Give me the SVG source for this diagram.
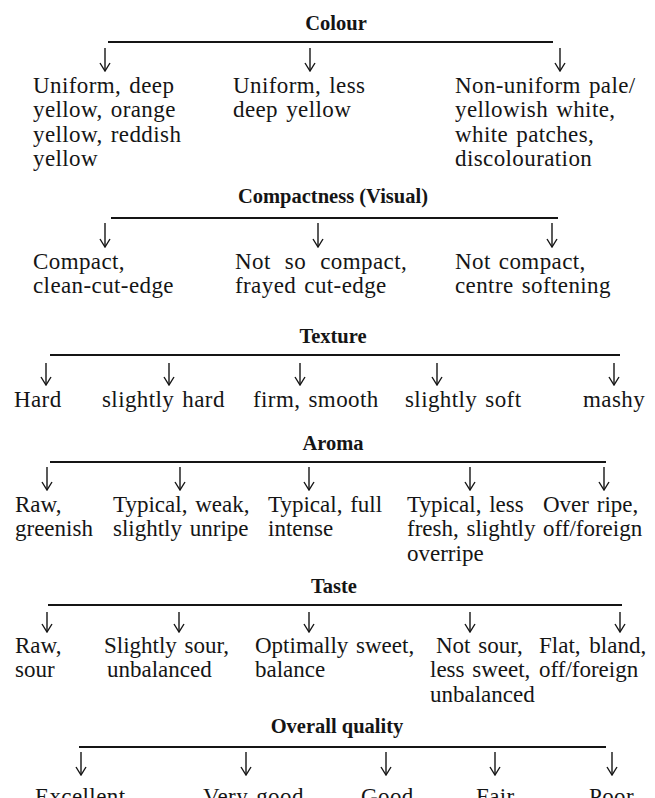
<svg xmlns="http://www.w3.org/2000/svg" width="655" height="798" viewBox="0 0 655 798">
<style>
.t{font-family:"Liberation Serif","Times New Roman",serif;font-size:20.5px;font-weight:bold;fill:#151515;text-anchor:middle}
.b{font-family:"Liberation Serif","Times New Roman",serif;font-size:23px;fill:#151515;letter-spacing:0.4px;word-spacing:2px}
.c{font-family:"Liberation Serif","Times New Roman",serif;font-size:23px;fill:#151515;letter-spacing:0px;word-spacing:2px}
.ln{stroke:#151515;stroke-width:2;fill:none}
.ar{stroke:#151515;stroke-width:1.4;fill:none;marker-end:url(#h)}
</style>
<defs>
<marker id="h" viewBox="-1 -6 10 12" refX="8" refY="0" markerWidth="10" markerHeight="12" markerUnits="userSpaceOnUse" orient="auto">
<path d="M0,-5 L8,0 L0,5" fill="none" stroke="#151515" stroke-width="1.4"/>
</marker>
</defs>
<rect width="655" height="798" fill="#ffffff"/>

<g id="connectors">
<line class="ln" x1="108" y1="42" x2="553" y2="42"/>
<path class="ar" d="M105,48V71"/><path class="ar" d="M310,48V71"/><path class="ar" d="M560,48V71"/>
<line class="ln" x1="111" y1="218" x2="558" y2="218"/>
<path class="ar" d="M105,223V247"/><path class="ar" d="M318,223V247"/><path class="ar" d="M552,223V247"/>
<line class="ln" x1="50" y1="355" x2="620" y2="355"/>
<path class="ar" d="M46,363V385"/><path class="ar" d="M169,363V385"/><path class="ar" d="M300,363V385"/><path class="ar" d="M437,363V385"/><path class="ar" d="M614,363V385"/>
<line class="ln" x1="50" y1="462" x2="606" y2="462"/>
<path class="ar" d="M47,467V490"/><path class="ar" d="M180,467V490"/><path class="ar" d="M309,467V490"/><path class="ar" d="M470,467V490"/><path class="ar" d="M604,467V490"/>
<line class="ln" x1="48" y1="605" x2="622" y2="605"/>
<path class="ar" d="M47,612V632"/><path class="ar" d="M179,612V632"/><path class="ar" d="M309,612V632"/><path class="ar" d="M470,612V632"/><path class="ar" d="M620,612V632"/>
<line class="ln" x1="79" y1="747" x2="606" y2="747"/>
<path class="ar" d="M81,752V775"/><path class="ar" d="M246,752V775"/><path class="ar" d="M386,752V775"/><path class="ar" d="M495,752V775"/><path class="ar" d="M612,752V775"/>
</g>

<g id="colour"><text class="t" x="336" y="30">Colour</text></g>
<g id="colour-1"><text class="b" x="33" y="93">Uniform, deep<tspan x="33" dy="24.3">yellow, orange</tspan><tspan x="33" dy="24.3">yellow, reddish</tspan><tspan x="33" dy="24.3">yellow</tspan></text></g>
<g id="colour-2"><text class="b" x="233" y="93">Uniform, less<tspan x="233" dy="24.3">deep yellow</tspan></text></g>
<g id="colour-3"><text class="b" x="455" y="93">Non-uniform pale/<tspan x="455" dy="24.3">yellowish white,</tspan><tspan x="455" dy="24.3">white patches,</tspan><tspan x="455" dy="24.3">discolouration</tspan></text></g>

<g id="compactness"><text class="t" x="333" y="203">Compactness (Visual)</text></g>
<g id="compact-1"><text class="b" x="33" y="269">Compact,<tspan x="33" dy="24.3">clean-cut-edge</tspan></text></g>
<g id="compact-2"><text class="b" x="235" y="269" style="word-spacing:8px">Not so compact,<tspan x="235" dy="24.3" style="word-spacing:2px">frayed cut-edge</tspan></text></g>
<g id="compact-3"><text class="b" x="455" y="269">Not compact,<tspan x="455" dy="24.3">centre softening</tspan></text></g>

<g id="texture"><text class="t" x="333" y="343">Texture</text></g>
<g id="texture-1"><text class="b" x="14" y="407">Hard</text></g>
<g id="texture-2"><text class="b" x="102" y="407">slightly hard</text></g>
<g id="texture-3"><text class="b" x="253" y="407">firm, smooth</text></g>
<g id="texture-4"><text class="b" x="405" y="407">slightly soft</text></g>
<g id="texture-5"><text class="b" x="583" y="407">mashy</text></g>

<g id="aroma"><text class="t" x="333" y="450">Aroma</text></g>
<g id="aroma-1"><text class="c" x="15" y="512">Raw,<tspan x="15" dy="24.3">greenish</tspan></text></g>
<g id="aroma-2"><text class="c" x="113" y="512">Typical, weak,<tspan x="113" dy="24.3">slightly unripe</tspan></text></g>
<g id="aroma-3"><text class="c" x="268" y="512">Typical, full<tspan x="268" dy="24.3">intense</tspan></text></g>
<g id="aroma-4"><text class="c" x="407" y="512">Typical, less<tspan x="407" dy="24.3">fresh, slightly</tspan><tspan x="407" dy="24.3">overripe</tspan></text></g>
<g id="aroma-5"><text class="c" x="543" y="512">Over ripe,<tspan x="543" dy="24.3">off/foreign</tspan></text></g>

<g id="taste"><text class="t" x="334" y="593">Taste</text></g>
<g id="taste-1"><text class="c" x="15" y="653">Raw,<tspan x="15" dy="24.3">sour</tspan></text></g>
<g id="taste-2"><text class="c" x="104" y="653">Slightly sour,<tspan x="107" dy="24.3">unbalanced</tspan></text></g>
<g id="taste-3"><text class="c" x="255" y="653">Optimally sweet,<tspan x="255" dy="24.3">balance</tspan></text></g>
<g id="taste-4"><text class="c" x="436" y="653">Not sour,<tspan x="430" dy="24.3">less sweet,</tspan><tspan x="430" dy="24.3">unbalanced</tspan></text></g>
<g id="taste-5"><text class="c" x="539" y="653" style="word-spacing:3px">Flat, bland,<tspan x="539" dy="24.3">off/foreign</tspan></text></g>

<g id="overall"><text class="t" x="337" y="733">Overall quality</text></g>
<g id="overall-1"><text class="b" x="35" y="804">Excellent</text></g>
<g id="overall-2"><text class="b" x="203" y="804">Very good</text></g>
<g id="overall-3"><text class="b" x="361" y="804">Good</text></g>
<g id="overall-4"><text class="b" x="476" y="804">Fair</text></g>
<g id="overall-5"><text class="b" x="589" y="804">Poor</text></g>
</svg>
